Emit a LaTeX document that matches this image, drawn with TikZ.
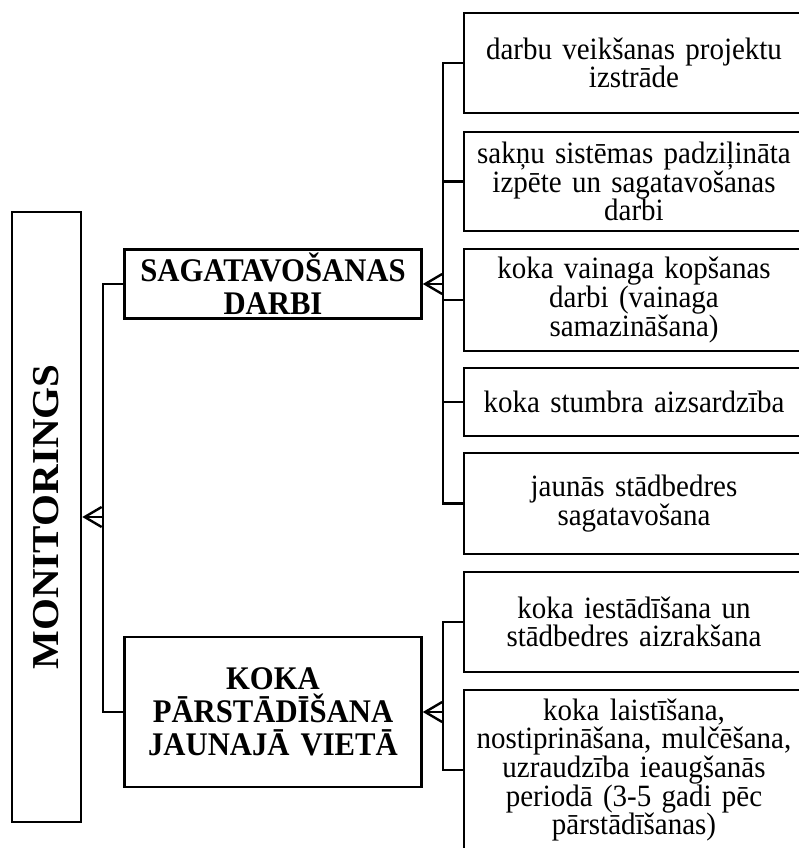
\documentclass[tikz,border=0pt]{standalone}
\usepackage{fontspec}
\setmainfont{Liberation Serif}
\newfontfamily\rfont[FakeStretch=0.935]{Liberation Serif}
\newfontfamily\hfont[FakeStretch=0.93]{Liberation Serif}
\newfontfamily\mfont[FakeStretch=1.08]{Liberation Serif}
\usetikzlibrary{arrows.meta}
\tikzset{
  ln/.style={line width=2.6pt},
  arr/.style={line width=2.6pt,-{Straight Barb[length=17pt,width=20pt,line width=2.4pt]}},
  rbox/.style={draw,line width=2.6pt,inner sep=0pt,minimum width=340pt,text width=336pt,align=center,font=\rfont\fontsize{31}{28.6}\selectfont},
  hbox/.style={draw,line width=2.6pt,inner sep=0pt,minimum width=297pt,text width=292pt,align=center,font=\hfont\bfseries\fontsize{33}{33}\selectfont},
}
\begin{document}
\begin{tikzpicture}[x=1pt,y=-1pt]
\useasboundingbox (0,0) rectangle (798,848);
% main box
\node[draw,line width=2.6pt,inner sep=0pt,rotate=90,minimum width=610pt,minimum height=69pt,font=\mfont\bfseries\fontsize{38}{40}\selectfont] (mon) at (46.5,517) {MONITORINGS};
% headers
\node[hbox,minimum height=69pt] (sag) at (273,284) {SAGATAVOŠANAS\\DARBI};
\node[hbox,minimum height=150pt] (kok) at (273,712) {KOKA\\PĀRSTĀDĪŠANA\\JAUNAJĀ VIETĀ};
% right boxes
\node[rbox,minimum height=100pt] (r1) at (634,63) {darbu veikšanas projektu\\izstrāde};
\node[rbox,minimum height=99pt] (r2) at (634,181.5) {sakņu sistēmas padziļināta\\izpēte un sagatavošanas\\darbi};
\node[rbox,minimum height=102pt] (r3) at (634,300) {koka vainaga kopšanas\\darbi (vainaga\\samazināšana)};
\node[rbox,minimum height=68pt] (r4) at (634,402) {koka stumbra aizsardzība};
\node[rbox,minimum height=101pt] (r5) at (634,503.5) {jaunās stādbedres\\sagatavošana};
\node[rbox,minimum height=100pt] (r6) at (634,622) {koka iestādīšana un\\stādbedres aizrakšana};
\node[rbox,minimum height=160pt] (r7) at (634,770) {koka laistīšana,\\nostiprināšana, mulčēšana,\\uzraudzība ieaugšanās\\periodā (3-5 gadi pēc\\pārstādīšanas)};
% bus coordinates
\coordinate (bl) at (103,517);
\coordinate (br) at (443,284);
\coordinate (bk) at (443,712);
% left connectors
\draw[ln] (sag.west) -| (bl) |- (kok.west);
\draw[arr] (bl) -- (mon.south);
% upper right connectors
\draw[ln] (r1.west) -| (br) |- (r5.west);
\foreach \n in {r2,r3,r4} \draw[ln] (\n.west) -- (\n.west -| br);
\draw[arr] (br) -- (sag.east);
% lower right connectors
\draw[ln] (r6.west) -| (bk) |- (r7.west);
\draw[arr] (bk) -- (kok.east);
\end{tikzpicture}
\end{document}
